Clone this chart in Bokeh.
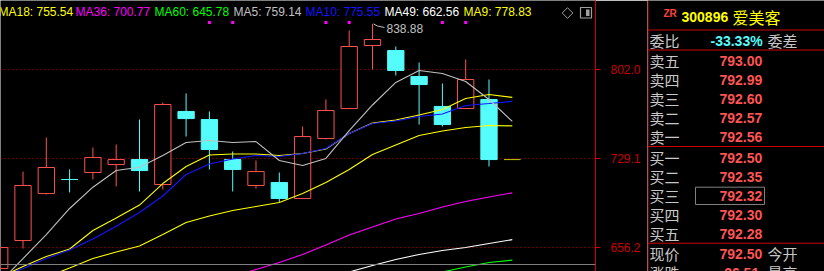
import math
from bokeh.plotting import figure
from bokeh.layouts import row
from bokeh.models import Range1d, FixedTicker, PrintfTickFormatter, Span
from bokeh.core.properties import value
from bokeh.embed import file_html
from bokeh.resources import INLINE

nan = float("nan")

# ---------------- data ----------------
idx = list(range(23))
open_ = [638.9, 661.8, 700.2, 711.7, 717.4, 723.9, 728.0, 707.6, 767.3, 760.7, 728.0, 706.8,
         709.2, 696.2, 745.2, 769.7, 821.2, 817.1, 795.9, 771.4, 769.7, 777.1, 728.0]
close = [656.1, 706.8, 721.5, 711.7, 729.7, 728.0, 719.0, 773.0, 761.5, 736.2, 719.9, 718.2,
         696.2, 746.8, 768.1, 820.4, 826.1, 800.8, 789.3, 756.6, 793.4, 728.0, 728.0]
high = [656.1, 718.2, 746.0, 719.9, 737.8, 740.3, 760.7, 774.6, 782.0, 767.3, 734.6, 727.2,
        717.4, 755.0, 777.1, 833.5, 838.88, 820.4, 807.3, 790.2, 809.8, 793.4, 728.0]
low = [637.3, 655.3, 699.4, 701.1, 711.7, 706.0, 701.9, 703.5, 746.8, 719.9, 701.9, 704.3,
       692.9, 696.2, 744.4, 769.7, 801.6, 796.7, 756.6, 755.0, 769.7, 722.3, 728.0]

ma5 = [627.5, 647.1, 666.7, 688.0, 705.4, 719.0, 721.7, 731.3, 741.9, 743.6, 741.9, 742.7,
       727.2, 723.1, 728.9, 751.7, 772.6, 791.0, 800.8, 798.3, 791.8, 777.1, 759.14]
ma10 = [631.6, 638.9, 647.1, 654.1, 663.1, 673.5, 684.7, 698.2, 715.8, 724.4, 728.4, 731.3,
        730.5, 732.9, 737.0, 749.3, 757.5, 759.5, 763.2, 765.2, 772.2, 773.8, 775.55]
ma9 = [631.6, 640.6, 648.7, 654.9, 670.0, 680.2, 690.8, 708.4, 722.3, 731.7, 732.5, 732.5,
       731.3, 732.9, 736.6, 749.3, 757.9, 760.3, 764.4, 768.9, 777.9, 781.2, 778.83]
ma18 = [616.9, 624.2, 632.0, 639.3, 647.1, 652.4, 657.3, 666.7, 676.5, 681.9, 686.3, 689.6,
        692.9, 700.2, 709.2, 719.9, 732.1, 739.9, 747.7, 751.3, 754.2, 755.8, 755.54]
ma36 = [nan] * 9 + [626.7, 632.4, 638.1, 643.8, 650.4, 658.1, 666.3, 672.9, 679.4, 683.9,
                    689.2, 693.7, 697.4, 700.77]
ma49 = [nan] * 14 + [630.8, 636.1, 641.4, 646.3, 650.4, 653.6, 656.1, 659.4, 662.56]
ma60 = [nan] * 18 + [632.0, 636.1, 640.2, 643.8, 645.78]

signal_idx = [9, 10, 14, 15, 19, 20]
tick_values = [656.2, 729.1, 802.0]

legend_names = ["MA18", "MA36", "MA60", "MA5", "MA10", "MA49", "MA9"]

stock_code = "300896"
stock_name = "爱美客"
weibi = -33.33
sell_labels = ["卖五", "卖四", "卖三", "卖二", "卖一"]
sell_prices = [793.00, 792.99, 792.60, 792.57, 792.56]
buy_labels = ["买一", "买二", "买三", "买四", "买五"]
buy_prices = [792.50, 792.35, 792.32, 792.30, 792.28]
now_price = 792.50
change = -26.51

# ---------------- styles ----------------
RED = "#ff5050"
CYAN = "#54fcfc"
OLIVE = "#b4b400"
AXRED = "#d00000"
GRAY = "#c0c0c0"
ma_series = {"MA18": ma18, "MA36": ma36, "MA60": ma60, "MA5": ma5,
             "MA10": ma10, "MA49": ma49, "MA9": ma9}
ma_colors = {"MA18": "#ffff00", "MA36": "#ff00ff", "MA60": "#00ff00", "MA5": GRAY,
             "MA10": "#1414ff", "MA49": "#ffffff", "MA9": "#ffff00"}
legend_px = [-2, 75, 154, 233, 305, 384, 463]

X0, X1 = 0.0343, 25.571
Y0, Y1 = 636.5, 858.0
FW, FH = 595, 271


def dx(px):
    return X0 + px * (X1 - X0) / FW


def dy(py):
    return Y1 - py * (Y1 - Y0) / FH


p = figure(frame_width=FW, frame_height=FH, x_range=Range1d(X0, X1), y_range=Range1d(Y0, Y1),
           x_axis_location=None, y_axis_location="right", toolbar_location=None,
           output_backend="svg", background_fill_color="black", border_fill_color="black",
           min_border=0, min_border_right=52, outline_line_color=None)
p.xgrid.visible = False
p.ygrid.ticker = FixedTicker(ticks=tick_values)
p.ygrid.grid_line_color = "#c80000"
p.ygrid.grid_line_dash = "1 3"
p.ygrid.grid_line_width = 1

ax = p.yaxis[0]
ax.ticker = FixedTicker(ticks=tick_values)
ax.formatter = PrintfTickFormatter(format="%.1f")
ax.axis_line_color = AXRED
ax.major_tick_line_color = AXRED
ax.major_tick_out = 5
ax.major_tick_in = 0
ax.minor_tick_line_color = None
ax.major_label_standoff = 10
ax.major_label_text_color = "#c80000"
ax.major_label_text_font = "Liberation Sans"
ax.major_label_text_font_size = "12px"

p.add_layout(Span(location=dy(264), dimension="width", line_color="#808080", line_width=1))

# candles
colors, fills = [], []
for i in idx:
    if close[i] > open_[i]:
        c, f = RED, "black"
    elif close[i] < open_[i]:
        c, f = CYAN, CYAN
    else:
        prev = close[i - 1] if i > 0 else close[i]
        if close[i] < prev:
            c, f = CYAN, CYAN
        elif close[i] > prev:
            c, f = RED, "black"
        else:
            c, f = OLIVE, OLIVE
    colors.append(c)
    fills.append(f)
tops = [max(o, c) for o, c in zip(open_, close)]
bots = [min(o, c) for o, c in zip(open_, close)]

p.segment(x0=idx, y0=low, x1=idx, y1=high, line_color=colors, line_width=1)
p.vbar(x=idx, width=0.7, top=tops, bottom=bots, fill_color=fills, line_color=colors,
       line_width=1)

for name in ["MA60", "MA49", "MA36", "MA18", "MA9", "MA10", "MA5"]:
    p.line(idx, ma_series[name], line_color=ma_colors[name], line_width=1.1)

p.scatter([i for i in signal_idx], [dy(22)] * len(signal_idx), marker="square", size=3,
          fill_color="#ff00ff", line_color=None)

# highest price note
hi_i = max(idx, key=lambda i: high[i])
p.line([hi_i + dx(1) - X0, dx(377), dx(384)], [high[hi_i], dy(25.5), dy(27)],
       line_color=GRAY, line_width=1)
p.text(x=[dx(386)], y=[dy(28)], text=[f"{high[hi_i]:.2f}"], text_color=GRAY,
       text_font=value("Liberation Sans"), text_font_size="12px", text_baseline="middle")

# legend
p.text(x=[dx(v) for v in legend_px], y=[dy(11.7)] * len(legend_names),
       text=[f"{n}: {ma_series[n][-1]:.2f}" for n in legend_names],
       text_color=[ma_colors[n] for n in legend_names],
       text_font=value("Liberation Sans"), text_font_size="12px", text_baseline="middle")

# small icons
p.scatter([dx(567)], [dy(12.5)], marker="square", size=7.5, angle=math.pi / 4,
          fill_color=None, line_color="#a0a0a0", line_width=1)
p.quad(left=[dx(580)], right=[dx(591)], top=[dy(7)], bottom=[dy(17.5)], fill_color=None,
       line_color="#a0a0a0", line_width=1.2)
p.quad(left=[dx(585.5)], right=[dx(589)], top=[dy(9)], bottom=[dy(15.5)],
       fill_color="#a0a0a0", line_color=None)

# ---------------- right panel ----------------
q = figure(width=177, height=271, x_range=Range1d(0, 177), y_range=Range1d(271, 0),
           toolbar_location=None, output_backend="svg", background_fill_color="black",
           border_fill_color="black", min_border=0, outline_line_color=None,
           x_axis_location=None, y_axis_location=None)
q.grid.visible = False

q.segment(x0=[0.5, 0, 0, 0, 0], y0=[0, 29.5, 49.5, 146, 242.7],
          x1=[0.5, 177, 177, 177, 177], y1=[271, 29.5, 49.5, 146, 242.7],
          line_color=AXRED, line_width=1)

CJK = value("Noto Sans CJK SC")
NUM = value("Liberation Sans")

q.text(x=[16], y=[12.5], text=["ZR"], text_color="#ff4040", text_font=NUM,
       text_font_size="10px", text_font_style="bold", text_baseline="middle")
q.text(x=[34], y=[16], text=[stock_code], text_color="#ffff00", text_font=NUM,
       text_font_size="14px", text_font_style="bold", text_baseline="middle")
q.text(x=[85], y=[16], text=[stock_name], text_color="#ffff00", text_font=CJK,
       text_font_size="16px", text_baseline="middle")

q.text(x=[2, 120], y=[39.5, 39.5], text=["委比", "委差"], text_color="#c8c8c8",
       text_font=CJK, text_font_size="15px", text_baseline="middle")
q.text(x=[63], y=[40], text=[f"{weibi:.2f}%"], text_color=CYAN, text_font=NUM,
       text_font_size="14px", text_font_style="bold", text_baseline="middle")

row_labels = sell_labels + buy_labels + ["现价", "涨跌"]
row_values = sell_prices + buy_prices + [now_price, change]
row_y = [59.5 + 19 * k for k in range(5)] + [157.3 + 19 * k for k in range(5)] + [253.3, 272.3]
q.text(x=[2] * len(row_labels), y=row_y, text=row_labels, text_color="#c8c8c8",
       text_font=CJK, text_font_size="15px", text_baseline="middle")
q.text(x=[72] * len(row_values), y=[v + 0.5 for v in row_y],
       text=[f"{v:.2f}" for v in row_values], text_color="#ff5454", text_font=NUM,
       text_font_size="14px", text_font_style="bold", text_baseline="middle")
q.text(x=[120, 120], y=row_y[-2:], text=["今开", "最高"], text_color="#c8c8c8",
       text_font=CJK, text_font_size="15px", text_baseline="middle")

q.quad(left=[48], right=[117], top=[186.7], bottom=[204], fill_color=None,
       line_color="#808080", line_width=1)

layout = row(p, q, spacing=0)
open("out.html", "w").write(file_html(layout, INLINE))
